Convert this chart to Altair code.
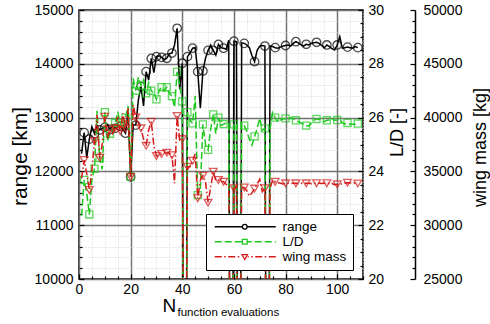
import altair as alt
import pandas as pd

# ---------------- data ----------------
N = list(range(1, 109))
range_km = [12330, 12720, 12250, 12600, 12830, 12700, 12850, 12770, 12800, 12820,
            12860, 12780, 12850, 12800, 12840, 12840, 12780, 12710, 13100, 11900,
            12870, 12860, 13330, 13575, 13216, 13854, 13700, 14100, 13835, 14133,
            14150, 14120, 14080, 14103, 14190, 14200, 14350, 14660, 13526, 14010,
            0, 14133, 14200, 14290, 14300, 13854, 13173, 13867, 14103, 14250,
            14350, 14250, 14160, 14360, 14300, 14290, 14270, 14440, 0, 14420,
            14411, 0, 14390, 14380, 14350, 14300, 14150, 14040, 14250, 14330,
            14340, 14330, 0, 14330, 14320, 14300, 14290, 14310, 14330, 14340,
            14350, 14330, 14380, 14411, 14390, 14350, 14330, 14363, 14350, 14380,
            14390, 14400, 14380, 14340, 14300, 14350, 14320, 14280, 14257, 14350,
            14505, 14290, 14300, 14310, 14300, 14290, 14320, 14300]
ld = [22.35, 23.68, 23.2, 22.4, 23.7, 24.1, 26.25, 24.5, 24.08, 26.2,
      25.13, 25.4, 25.54, 25.8, 26.22, 25.8, 25.6, 26.0, 26.43, 23.8,
      27.46, 27.0, 27.5, 27.2, 27.4, 26.9, 27.3, 27.0, 26.9, 26.68,
      27.0, 27.13, 27.0, 27.13, 26.9, 26.8, 26.38, 27.7, 27.2, 26.6,
      0, 26.2, 25.9, 25.79, 26.8, 23.12, 23.37, 25.75, 25.0, 24.8,
      25.56, 26.12, 25.4, 26.0, 25.7, 25.76, 25.8, 25.8, 0, 25.75,
      25.79, 0, 25.79, 25.7, 25.5, 25.2, 24.98, 25.3, 25.6, 25.97,
      25.54, 25.6, 0, 25.6, 26.18, 26.0, 25.85, 25.9, 25.95, 25.97,
      25.9, 26.0, 25.95, 25.9, 25.85, 25.8, 25.75, 25.7, 25.69, 25.8,
      25.9, 25.95, 25.94, 25.9, 25.85, 25.9, 25.91, 25.95, 25.9, 25.91,
      25.95, 25.8, 25.76, 25.8, 25.75, 25.75, 25.75, 25.78]
mass = [34360, 36060, 34800, 33270, 35130, 37830, 40240, 36270, 37500, 40080,
        38080, 38850, 38500, 39000, 40080, 38750, 40400, 39000, 40860, 34480,
        41170, 40000, 39500, 39000, 38000, 37390, 38850, 39620, 37360, 36430,
        36500, 36620, 36700, 36740, 36700, 36500, 33890, 40150, 37920, 38000,
        0, 35440, 35440, 36000, 36620, 32500, 34200, 34600, 34000, 32090,
        33500, 34970, 34130, 34200, 34100, 34040, 33800, 33600, 0, 33430,
        33640, 0, 33580, 33500, 33200, 32710, 33000, 33400, 33800, 34270,
        33110, 33430, 0, 33430, 34200, 34040, 33950, 33900, 33830, 33890,
        33900, 33880, 33900, 33890, 33880, 33900, 33870, 33890, 33900, 33850,
        33880, 33900, 33890, 33870, 33890, 33900, 33880, 33870, 33760, 33800,
        33740, 33900, 33930, 33950, 33920, 33950, 33900, 33880]
series = ["range", "L/D", "wing mass"]

x_major = [0, 20, 40, 60, 80, 100]
x_minor = [v for v in range(0, 111, 5) if v % 20 != 0]
r_major = list(range(10000, 15001, 1000))
r_minor = [v for v in range(10000, 15001, 200) if v % 1000 != 0]
ld_major = [20, 22, 24, 26, 28, 30]
ld_minor = [20 + 0.5 * i for i in range(21) if i % 4 != 0]
m_major = list(range(25000, 50001, 5000))
m_minor = [v for v in range(25000, 50001, 1000) if v % 5000 != 0]

df = pd.DataFrame({"N": N, "range": range_km, "LD": ld, "mass": mass})
leg_df = pd.DataFrame({"series": series})

# ---------------- styles ----------------
FONT = "Liberation Sans"
BLACK, GREEN, RED = "#000000", "#1ec81e", "#d41a1a"
GRID, MINOR = "#747474", "#d2d2d2"
MARK = "datum.N < 56 ? datum.N % 2 == 0 : datum.N % 4 == 0"

XS = alt.Scale(domain=[0, 110], nice=False, zero=False)
YR = alt.Scale(domain=[10000, 15000], nice=False, zero=False)
YL = alt.Scale(domain=[20, 30], nice=False, zero=False)
YM = alt.Scale(domain=[25000, 50000], nice=False, zero=False)

base = alt.Chart(df)


def ghost(ycol, yscale, xaxis, yaxis):
    return base.mark_line(strokeOpacity=0).encode(
        x=alt.X("N:Q", scale=XS, axis=xaxis),
        y=alt.Y(f"{ycol}:Q", scale=yscale, axis=yaxis),
    )


# axis layers
ax1 = ghost(
    "range", YR,
    alt.Axis(orient="bottom", values=x_major, tickSize=5, offset=-5, domain=False,
             grid=True, gridColor=GRID, gridWidth=1.5, labelPadding=3, labelFontSize=14,
             format="d", title="N", titleFontSize=19, titleX=83, titleY=37,
             titleAlign="left", titleBaseline="alphabetic"),
    alt.Axis(orient="left", values=r_major, tickSize=5, offset=-5, domain=False,
             grid=True, gridColor=GRID, gridWidth=1.5, labelPadding=6, labelFontSize=14,
             format="d", title="range [km]", titleFontSize=21, titleX=-64, titleY=146,
             titleAngle=270, titleAlign="center", titleBaseline="middle"),
)
ax2 = ghost(
    "range", YR,
    alt.Axis(orient="bottom", values=x_minor, tickSize=3, offset=-3, domain=False,
             labels=False, grid=True, gridColor=MINOR, gridDash=[1, 2], gridWidth=1,
             title="function evaluations", titleFontSize=11.5, titleX=98, titleY=39,
             titleAlign="left", titleBaseline="alphabetic"),
    alt.Axis(orient="left", values=r_minor, tickSize=3, offset=-3, domain=False,
             labels=False, grid=True, gridColor=MINOR, gridDash=[1, 2], gridWidth=1,
             title=None),
)
ax3 = ghost(
    "LD", YL, None,
    alt.Axis(orient="right", values=ld_major, tickSize=5, offset=-5, domain=False,
             grid=False, labelPadding=5, labelFontSize=14, format="d",
             title="L/D [-]", titleFontSize=18, titleX=39, titleY=122, titleAngle=270,
             titleAlign="center", titleBaseline="middle"),
)
ax4 = ghost(
    "LD", YL, None,
    alt.Axis(orient="right", values=ld_minor, tickSize=3, offset=-3, domain=False,
             grid=False, labels=False, title=None),
)
ax5 = ghost(
    "mass", YM, None,
    alt.Axis(orient="right", values=m_major, tickSize=5, offset=47, domain=False,
             grid=False, labelPadding=8, labelFontSize=14, format="d",
             title="wing mass [kg]", titleFontSize=18, titleX=70, titleY=137,
             titleAngle=270, titleAlign="center", titleBaseline="middle"),
)
ax6 = ghost(
    "mass", YM, None,
    alt.Axis(orient="right", values=m_minor, tickSize=3, offset=49, domain=False,
             grid=False, labels=False, title=None),
)
ax7 = ghost(
    "mass", YM, None,
    alt.Axis(orient="right", offset=52, domain=True, domainColor="black", domainWidth=1.5,
             ticks=False, labels=False, grid=False, title=None),
)


def series_layers(col, yscale, color, dash, shape, size):
    enc = dict(x=alt.X("N:Q", scale=XS, axis=None),
               y=alt.Y(f"{col}:Q", scale=yscale, axis=None))
    line_kw = dict(color=color, strokeWidth=1.5, clip=True)
    if dash:
        line_kw["strokeDash"] = dash
    line = base.mark_line(**line_kw).encode(**enc)
    pts = base.transform_filter(MARK).mark_point(
        shape=shape, size=size, color=color, filled=False, strokeWidth=1.3, clip=True
    ).encode(**enc)
    return [line, pts]


data_layers = (
    series_layers("range", YR, BLACK, None, "circle", 72)
    + series_layers("LD", YL, GREEN, [7, 3], "square", 50)
    + series_layers("mass", YM, RED, [7, 2.5, 1.5, 2.5], "triangle-down", 60)
)

# ---------------- legend (custom line+marker symbols) ----------------
U = 4.0                       # px per path unit (symbolSize 64)
X0, X1 = -1.0, -1.0 + 61 / U  # line from 0 px to 61 px
MC, R = -1.0 + 30 / U, 0.6    # marker centre / half size


def dash_path(pattern_px):
    pat = [p / U for p in pattern_px]
    segs, x, i = [], X0, 0
    while x < X1:
        xe = min(x + pat[i % len(pat)], X1)
        if i % 2 == 0:
            a, b = x, xe
            lo, hi = MC - R - 0.15, MC + R + 0.15
            if b <= lo or a >= hi:
                segs.append((a, b))
            else:
                if a < lo:
                    segs.append((a, lo))
                if b > hi:
                    segs.append((hi, b))
        x, i = xe, i + 1
    return "".join(f"M{a:.3f},0H{b:.3f}" for a, b in segs)


circ = (f"M{MC + R:.3f},0A{R},{R} 0 1,1 {MC - R:.3f},0"
        f"A{R},{R} 0 1,1 {MC + R:.3f},0Z")
sq = f"M{MC - R:.3f},{-R:.3f}H{MC + R:.3f}V{R:.3f}H{MC - R:.3f}Z"
tri = (f"M{MC - R * 1.15:.3f},{-R * 0.85:.3f}H{MC + R * 1.15:.3f}"
       f"L{MC:.3f},{R * 1.15:.3f}Z")
paths = [dash_path([61, 0.01]) + circ,
         dash_path([7, 3]) + sq,
         dash_path([7, 2.5, 1.5, 2.5]) + tri]

leg_opts = dict(title=None, orient="none", legendX=127, legendY=204,
                fillColor="white", strokeColor="black", padding=6,
                labelFont=FONT, labelFontSize=13.5, labelColor="black",
                labelOffset=57, symbolSize=64, symbolStrokeWidth=1.3,
                symbolOpacity=1, rowPadding=0)
legend_layer = alt.Chart(leg_df).transform_filter("datum.series == 'none'").mark_point(
    filled=False).encode(
    shape=alt.Shape("series:N", scale=alt.Scale(domain=series, range=paths),
                    legend=alt.Legend(**leg_opts)),
    color=alt.Color("series:N", scale=alt.Scale(domain=series, range=[BLACK, GREEN, RED]),
                    legend=alt.Legend(**leg_opts)),
)

chart = (
    alt.layer(ax2, ax1, ax3, ax4, ax5, ax6, ax7, *data_layers, legend_layer)
    .resolve_scale(x="independent", y="independent", color="independent",
                   shape="independent")
    .properties(width=284, height=269,
                autosize=alt.AutoSizeParams(type="none"),
                padding={"left": 79, "top": 10, "right": 127, "bottom": 45},
                background="white")
    .configure_view(stroke="black", strokeWidth=1.5)
    .configure_axis(labelFont=FONT, titleFont=FONT, labelColor="black",
                    titleColor="black", tickColor="black", tickWidth=1.2,
                    titleFontWeight="normal", labelFlush=False, labelOverlap=False)
)

chart.save("out.html", embed_options={"renderer": "svg", "actions": False})
